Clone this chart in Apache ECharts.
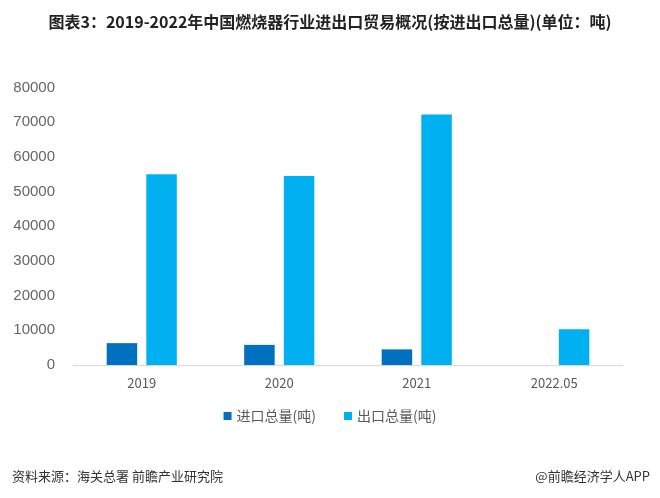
<!DOCTYPE html>
<html>
<head>
<meta charset="utf-8">
<script src="https://cdn.jsdelivr.net/npm/echarts@6/dist/echarts.min.js"></script>
<style>
html,body{margin:0;padding:0;background:#fff;}
#main{width:660px;height:498px;}
</style>
</head>
<body>
<div id="main"></div>
<script>
var categories = ['2019', '2020', '2021', '2022.05'];
var importTotal = [6300, 5800, 4500, null];
var exportTotal = [55000, 54500, 72200, 10300];
var yTicks = [0, 10000, 20000, 30000, 40000, 50000, 60000, 70000, 80000];
var seriesNames = ['进口总量(吨)', '出口总量(吨)'];

var chart = echarts.init(document.getElementById('main'));
var font = '"Noto Sans CJK SC", "Noto Sans", sans-serif';
chart.setOption({
  backgroundColor: '#ffffff',
  animation: false,
  title: [{
    text: '图表3：2019-2022年中国燃烧器行业进出口贸易概况(按进出口总量)(单位：吨)',
    left: 'center',
    top: 9,
    textStyle: {fontSize: 16, fontWeight: 'bold', color: '#222', fontFamily: font}
  }, {
    text: '资料来源：海关总署 前瞻产业研究院',
    left: 7,
    top: 465,
    textStyle: {fontSize: 13, fontWeight: 'normal', color: '#333', fontFamily: font}
  }, {
    text: '@前瞻经济学人APP',
    right: 5,
    top: 465,
    textStyle: {fontSize: 13, fontWeight: 'normal', color: '#333', fontFamily: font}
  }],
  legend: {
    data: seriesNames,
    left: 'center',
    top: 404,
    itemWidth: 8,
    itemHeight: 8,
    itemGap: 28,
    icon: 'rect',
    textStyle: {fontSize: 14, color: '#595959', fontFamily: font}
  },
  grid: {left: 73, right: 37, top: 87.5, bottom: 133, containLabel: false},
  xAxis: {
    type: 'category',
    data: categories,
    axisLine: {lineStyle: {color: '#d9d9d9', width: 1}},
    axisTick: {show: false},
    axisLabel: {fontSize: 13, color: '#595959', margin: 12, fontFamily: font}
  },
  yAxis: {
    type: 'value',
    min: yTicks[0],
    max: yTicks[yTicks.length - 1],
    interval: yTicks[1] - yTicks[0],
    axisLine: {show: false},
    axisTick: {show: false},
    splitLine: {show: false},
    axisLabel: {
      fontSize: 15, color: '#666', margin: 18,
      fontFamily: '"Liberation Sans", Arial, sans-serif',
      formatter: function (v) { return String(v); }
    }
  },
  series: [{
    name: seriesNames[0],
    type: 'bar',
    data: importTotal,
    barWidth: 30.5,
    barGap: '30%',
    itemStyle: {color: '#0070C0'}
  }, {
    name: seriesNames[1],
    type: 'bar',
    data: exportTotal,
    barWidth: 30.5,
    barGap: '30%',
    itemStyle: {color: '#00B0F0'}
  }]
});
</script>
</body>
</html>
